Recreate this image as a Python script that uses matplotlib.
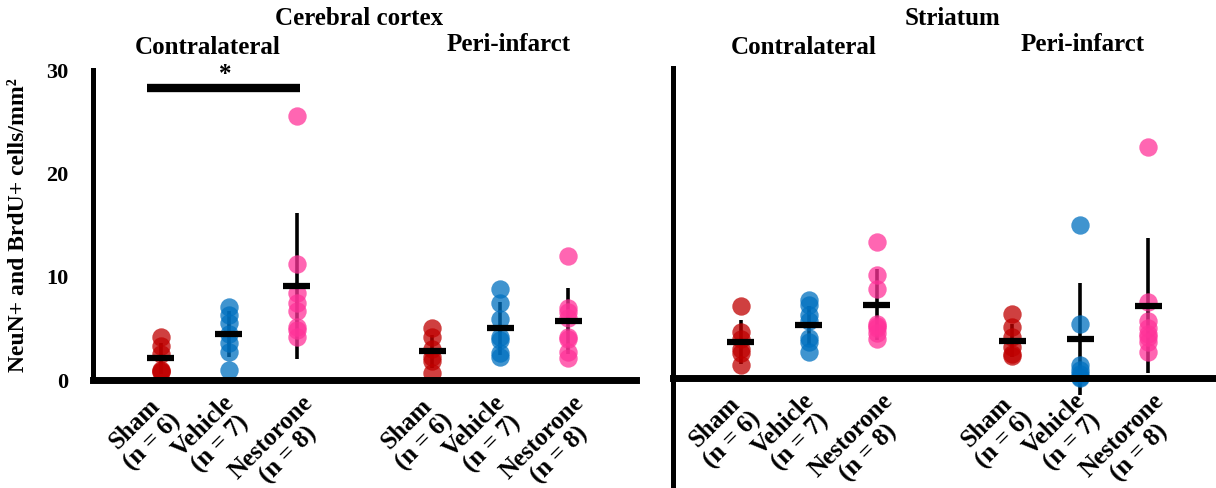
import matplotlib.pyplot as plt
from matplotlib.transforms import ScaledTranslation

plt.rcParams["font.family"] = ["Liberation Serif", "DejaVu Serif"]
plt.rcParams["font.weight"] = "bold"

groups = ["Sham\n(n = 6)", "Vehicle\n(n = 7)", "Nestorone\n(n = 8)"]
colors = ["#C00000", "#0070C0", "#FF3399"]
positions = [1, 2, 3, 5, 6, 7]

# cerebral cortex, contralateral
ctx_contra_sham = [4.2, 3.3, 2.5, 1.0, 0.9, 0.8]
ctx_contra_veh = [7.1, 6.3, 5.5, 4.5, 3.6, 2.7, 1.0]
ctx_contra_nes = [25.6, 11.2, 8.4, 7.5, 6.7, 5.1, 4.8, 4.2]
# cerebral cortex, peri-infarct
ctx_peri_sham = [5.0, 4.2, 3.0, 2.2, 1.8, 0.7]
ctx_peri_veh = [8.8, 7.5, 5.9, 4.2, 3.9, 2.6, 2.2]
ctx_peri_nes = [12.0, 7.0, 6.6, 6.0, 4.2, 4.0, 2.7, 2.1]
ctx_mean = [2.1, 4.45, 9.1, 2.8, 5.0, 5.7]
ctx_sd = [1.5, 2.2, 7.1, 1.6, 2.6, 3.2]

# striatum, contralateral
str_contra_sham = [7.0, 4.5, 3.8, 2.8, 2.4, 1.3]
str_contra_veh = [7.5, 7.1, 6.1, 5.5, 3.9, 3.5, 2.5]
str_contra_nes = [13.2, 10.0, 8.6, 5.2, 5.0, 4.8, 4.4, 3.8]
# striatum, peri-infarct
str_peri_sham = [6.2, 4.9, 4.0, 3.0, 2.3, 2.1]
str_peri_veh = [14.8, 5.2, 1.3, 0.8, 0.4, 0.1, 0.0]
str_peri_nes = [22.3, 7.4, 5.5, 4.8, 4.3, 4.0, 3.5, 2.5]
str_mean = [3.5, 5.1, 7.1, 3.6, 3.8, 7.0]
str_sd = [2.1, 1.9, 3.4, 1.6, 5.4, 6.5]


def draw_panel(fig, ax, sets, means, sds):
    for i in range(len(sets)):
        x = positions[i]
        ax.errorbar(x, means[i], yerr=sds[i], fmt="none", ecolor="black",
                    elinewidth=2.6, capsize=0, zorder=1)
        ax.scatter([x] * len(sets[i]), sets[i], s=175, color=colors[i % 3],
                   alpha=0.75, linewidths=0, zorder=2)
        ax.plot([x - 0.2, x + 0.2], [means[i], means[i]], color="black", lw=4.5,
                solid_capstyle="butt", zorder=3)
    ax.set_xlim(0, 8)
    ax.spines["right"].set_color("none")
    ax.spines["top"].set_color("none")
    ax.spines["left"].set_linewidth(3.6)
    ax.spines["bottom"].set_linewidth(5)
    ax.spines["bottom"].set_position(("data", 0))
    ax.tick_params(length=0)
    ax.tick_params(axis="x", pad=8)
    ax.set_xticks(positions)
    ax.set_xticklabels(groups * 2, rotation=45, ha="center", va="top",
                       multialignment="center", fontsize=18, fontweight="bold",
                       linespacing=1.1)
    # labels sit a bit left of the dots
    shift = ScaledTranslation(-0.17, 0, fig.dpi_scale_trans)
    for lab in ax.get_xticklabels():
        lab.set_transform(lab.get_transform() + shift)


def main():
    fig = plt.figure(figsize=(12.16, 4.88), dpi=100)
    ax1 = fig.add_axes([0.0765, 0.2213, 0.4465, 0.635])
    ax2 = fig.add_axes([0.5535, 0.006, 0.4465, 0.855])

    draw_panel(fig, ax1, [ctx_contra_sham, ctx_contra_veh, ctx_contra_nes,
                          ctx_peri_sham, ctx_peri_veh, ctx_peri_nes], ctx_mean, ctx_sd)
    draw_panel(fig, ax2, [str_contra_sham, str_contra_veh, str_contra_nes,
                          str_peri_sham, str_peri_veh, str_peri_nes], str_mean, str_sd)

    ax1.set_ylim(0, 30)
    ax1.set_yticks([0, 10, 20, 30])
    ax1.set_yticklabels(["0", "10", "20", "30"], fontsize=16, fontweight="bold")
    ax1.tick_params(axis="y", pad=18)

    ax2.set_ylim(-10.35, 30)
    ax2.set_yticks([])

    fig.text(0.015, 0.539, "NeuN+ and BrdU+ cells/mm²", rotation=90, ha="center",
             va="center", fontsize=17, fontweight="bold")

    # significance bar
    ax1.plot([0.8, 3.05], [28.3, 28.3], color="black", lw=6, solid_capstyle="butt",
             clip_on=False)
    ax1.text(1.95, 29.6, "*", ha="center", va="center", fontsize=18, fontweight="bold")

    fig.text(0.295, 0.963, "Cerebral cortex", ha="center", va="center", fontsize=18, fontweight="bold")
    fig.text(0.171, 0.902, "Contralateral", ha="center", va="center", fontsize=18, fontweight="bold")
    fig.text(0.418, 0.908, "Peri-infarct", ha="center", va="center", fontsize=18, fontweight="bold")
    fig.text(0.783, 0.963, "Striatum", ha="center", va="center", fontsize=18, fontweight="bold")
    fig.text(0.661, 0.902, "Contralateral", ha="center", va="center", fontsize=18, fontweight="bold")
    fig.text(0.890, 0.908, "Peri-infarct", ha="center", va="center", fontsize=18, fontweight="bold")

    fig.savefig("out.png", dpi=100)


if __name__ == "__main__":
    main()
